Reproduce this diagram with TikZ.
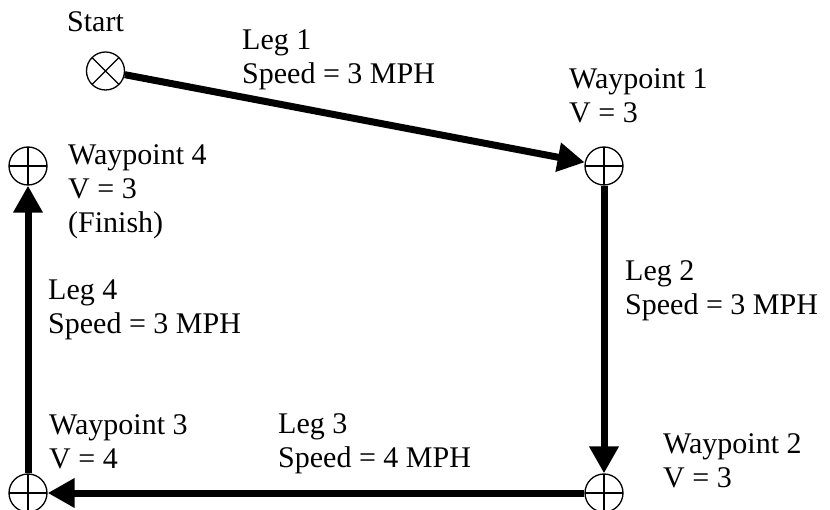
\documentclass[tikz,border=0pt]{standalone}
\usepackage{fontspec}
\setmainfont{Liberation Serif}
\usetikzlibrary{arrows.meta}
\begin{document}
\begin{tikzpicture}[x=1pt,y=-1pt,
  wp/.style={circle,draw,line width=1.3pt,minimum size=38pt,inner sep=0pt,
    path picture={\draw[line width=1.2pt] (path picture bounding box.north) -- (path picture bounding box.south)
      (path picture bounding box.west) -- (path picture bounding box.east);}},
  startwp/.style={circle,draw,line width=1.3pt,minimum size=38pt,inner sep=0pt,
    path picture={\draw[line width=1.2pt] (path picture bounding box.north west) -- (path picture bounding box.south east)
      (path picture bounding box.south west) -- (path picture bounding box.north east);}},
  lbl/.style={anchor=base west,align=left,inner sep=0pt,font=\fontsize{30}{34}\selectfont},
  leg/.style={line width=7pt,-{Triangle[length=27pt,width=28pt]},shorten >=0pt}]
\useasboundingbox (0,0) rectangle (830,510);
\node[startwp] (s) at (105.5,71) {};
\node[wp] (w1) at (604,166) {};
\node[wp] (w2) at (604,493) {};
\node[wp] (w3) at (28,493) {};
\node[wp] (w4) at (28,166) {};
\draw[leg] (s) -- (w1);
\draw[leg] (w1) -- (w2);
\draw[leg] (w2) -- (w3);
\draw[leg] (w3) -- (w4);
\node[lbl] (ts) at (67,32) {Start};
\node[lbl] (t1) at (242,84) {Leg 1\\Speed = 3 MPH};
\node[lbl] (tw1) at (569,123) {Waypoint 1\\V = 3};
\node[lbl] (tw4) at (68,233) {Waypoint 4\\V = 3\\(Finish)};
\node[lbl] (t4) at (48,334) {Leg 4\\Speed = 3 MPH};
\node[lbl] (t2) at (625,315) {Leg 2\\Speed = 3 MPH};
\node[lbl] (tw3) at (49,468) {Waypoint 3\\V = 4};
\node[lbl] (t3) at (278,467) {Leg 3\\Speed = 4 MPH};
\node[lbl] (tw2) at (663,487) {Waypoint 2\\V = 3};
\end{tikzpicture}
\end{document}
